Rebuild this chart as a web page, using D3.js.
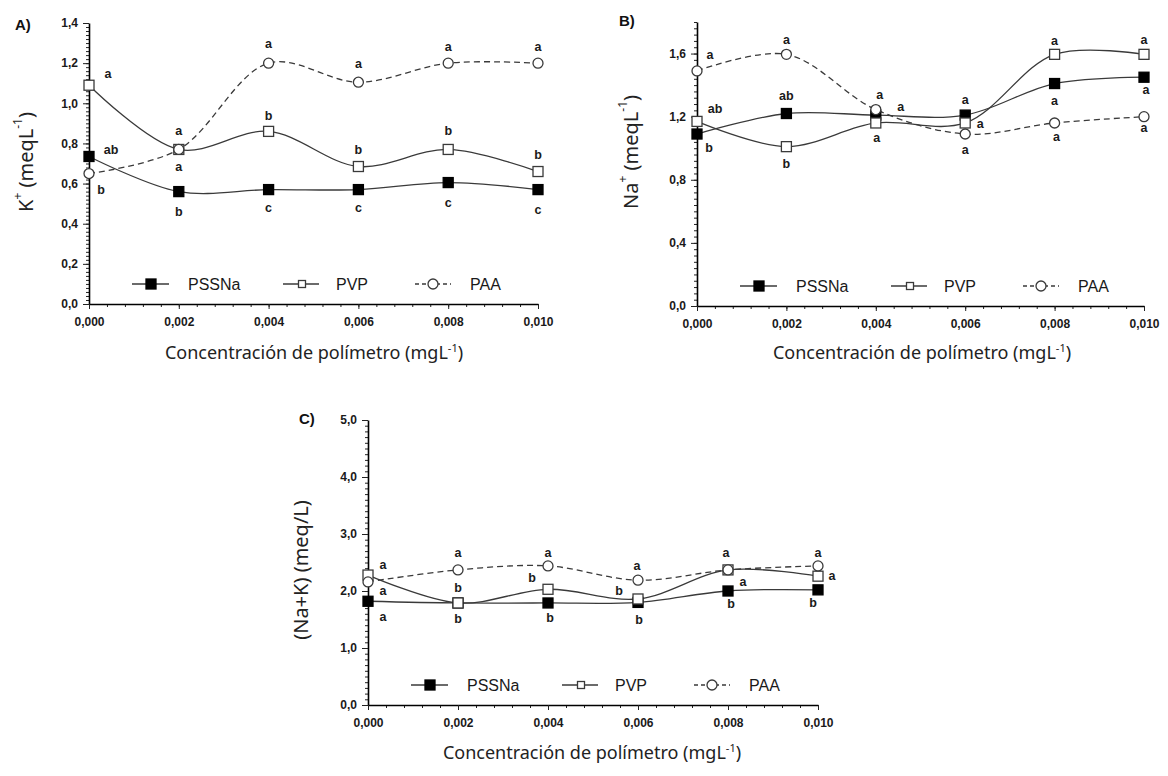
<!DOCTYPE html>
<html>
<head>
<meta charset="utf-8">
<script src="https://cdn.jsdelivr.net/npm/d3@7"></script>
<style>
  body { margin: 0; background: #fff; }
  svg { display: block; }
</style>
</head>
<body>
<svg width="1168" height="776"></svg>
<script>
// polymer concentration (mgL-1)
const concentrations = [0, 0.002, 0.004, 0.006, 0.008, 0.010];
const seriesNames = ['PSSNa', 'PVP', 'PAA'];

// A) K+
const kPSSNa = [0.735, 0.56, 0.57, 0.57, 0.605, 0.57];
const kPVP = [1.09, 0.77, 0.86, 0.685, 0.77, 0.66];
const kPAA = [0.65, 0.77, 1.20, 1.105, 1.20, 1.20];
const kPSSNaLetters = ['ab', 'b', 'c', 'c', 'c', 'c'];
const kPVPLetters = ['a', 'a', 'b', 'b', 'b', 'b'];
const kPAALetters = ['b', 'a', 'a', 'a', 'a', 'a'];
const kTicks = [0, 0.2, 0.4, 0.6, 0.8, 1.0, 1.2, 1.4];

// B) Na+
const naPSSNa = [1.09, 1.22, 1.21, 1.21, 1.41, 1.45];
const naPVP = [1.17, 1.01, 1.16, 1.16, 1.595, 1.595];
const naPAA = [1.49, 1.595, 1.245, 1.09, 1.16, 1.20];
const naPSSNaLetters = ['b', 'ab', 'a', 'a', 'a', 'a'];
const naPVPLetters = ['ab', 'b', 'a', 'a', 'a', 'a'];
const naPAALetters = ['a', 'a', 'a', 'a', 'a', 'a'];
const naTicks = [0, 0.4, 0.8, 1.2, 1.6];

// C) Na+K
const sumPSSNa = [1.82, 1.79, 1.79, 1.80, 2.00, 2.02];
const sumPVP = [2.28, 1.79, 2.03, 1.86, 2.37, 2.26];
const sumPAA = [2.16, 2.37, 2.44, 2.19, 2.37, 2.44];
const sumPSSNaLetters = ['a', 'b', 'b', 'b', 'b', 'b'];
const sumPVPLetters = ['a', 'b', 'b', 'b', 'a', 'a'];
const sumPAALetters = ['a', 'a', 'a', 'a', 'a', 'a'];
const sumTicks = [0, 1, 2, 3, 4, 5];

const svg = d3.select('svg');
const comma = f => v => d3.format(f)(v).replace('.', ',');
const lineColor = '#3a3a3a';

// layout of each panel (pixels)
const panels = [
  {
    label: 'A)', labelPos: [15, 30],
    xRange: [89, 538], yRange: [304, 23], yMax: 1.4, yTicks: kTicks, yMinorStep: 0.02,
    series: [kPSSNa, kPVP, kPAA],
    letters: [kPSSNaLetters, kPVPLetters, kPAALetters],
    offsets: [
      [[22, -6], [0, 20], [0, 18], [0, 18], [0, 20], [0, 20]],
      [[19, -11], [0, -18], [0, -15], [0, -17], [0, -18], [0, -17]],
      [[12, 16], [0, 18], [0, -19], [0, -18], [0, -16], [0, -16]]
    ],
    yTitle: [['K', 0], ['+', 1], [' (meqL', 0], ['-1', 1], [')', 0]],
    yTitlePos: [25, 162], xTitlePos: [314, 359]
  },
  {
    label: 'B)', labelPos: [619, 26],
    xRange: [697, 1144], yRange: [306, 22], yMax: 1.8, yTicks: naTicks, yMinorStep: 0.04,
    series: [naPSSNa, naPVP, naPAA],
    letters: [naPSSNaLetters, naPVPLetters, naPAALetters],
    offsets: [
      [[12, 14], [0, -18], [25, -8], [0, -15], [0, 17], [2, 13]],
      [[18, -12], [0, 17], [1, 15], [15, 1], [0, -13], [0, -14]],
      [[13, -16], [0, -14], [4, -15], [0, 16], [2, 14], [0, 11]]
    ],
    yTitle: [['Na', 0], ['+', 1], [' (meqL', 0], ['-1', 1], [')', 0]],
    yTitlePos: [630, 152], xTitlePos: [922, 359]
  },
  {
    label: 'C)', labelPos: [299, 424],
    xRange: [368, 818], yRange: [705, 420], yMax: 5, yTicks: sumTicks, yMinorStep: 0.1,
    series: [sumPSSNa, sumPVP, sumPAA],
    letters: [sumPSSNaLetters, sumPVPLetters, sumPAALetters],
    offsets: [
      [[15, 16], [0, 16], [2, 15], [1, 18], [3, 13], [-5, 13]],
      [[15, -10], [0, -15], [-16, -11], [-19, -8], [15, 12], [14, 0]],
      [[15, 9], [0, -17], [0, -13], [-1, -14], [-2, -17], [0, -13]]
    ],
    yTitle: [['(Na+K) (meq/L)', 0]],
    yTitlePos: [300, 570], xTitlePos: [592, 759]
  }
];

function addMarker(g, name, x, y, size) {
  if (name === 'PAA') {
    g.append('circle').attr('cx', x).attr('cy', y).attr('r', size / 2)
      .attr('fill', '#fff').attr('stroke', lineColor).attr('stroke-width', 1.3);
  } else {
    g.append('rect').attr('x', x - size / 2).attr('y', y - size / 2)
      .attr('width', size).attr('height', size)
      .attr('fill', name === 'PSSNa' ? '#000' : '#fff')
      .attr('stroke', name === 'PSSNa' ? '#000' : lineColor).attr('stroke-width', 1.3);
  }
}

function addRichText(t, parts, big, small) {
  parts.forEach((p, i) => {
    const prevSup = i > 0 && parts[i - 1][1];
    const sp = t.append('tspan').text(p[0]).attr('font-size', p[1] ? small : big);
    if (p[1] && !prevSup) sp.attr('dy', -big * 0.4);
    if (!p[1] && prevSup) sp.attr('dy', big * 0.4);
  });
}

panels.forEach(p => {
  const g = svg.append('g');
  const x = d3.scaleLinear().domain([0, 0.010]).range(p.xRange);
  const y = d3.scaleLinear().domain([0, p.yMax]).range(p.yRange);

  // minor ticks
  g.append('g').attr('transform', `translate(${p.xRange[0]},0)`)
    .call(d3.axisLeft(y).tickValues(d3.range(0, p.yMax + 1e-9, p.yMinorStep)).tickSize(3).tickFormat(''))
    .call(a => a.select('.domain').remove());
  g.append('g').attr('transform', `translate(0,${p.yRange[0]})`)
    .call(d3.axisBottom(x).tickValues(d3.range(0, 0.0100001, 0.0004)).tickSize(3).tickFormat(''))
    .call(a => a.select('.domain').remove());

  // major axes
  const yAxis = g.append('g').attr('transform', `translate(${p.xRange[0]},0)`)
    .call(d3.axisLeft(y).tickValues(p.yTicks).tickSize(6).tickSizeOuter(0).tickPadding(5).tickFormat(comma('.1f')));
  const xAxis = g.append('g').attr('transform', `translate(0,${p.yRange[0]})`)
    .call(d3.axisBottom(x).tickValues(concentrations).tickSize(5).tickSizeOuter(0).tickPadding(8).tickFormat(comma('.3f')));
  [yAxis, xAxis].forEach(a => {
    a.selectAll('text').attr('font-family', 'Liberation Sans, Arial, sans-serif')
      .attr('font-weight', 'bold').attr('font-size', 12).attr('fill', '#1a1a1a');
    a.select('.domain').attr('stroke-width', 1.6);
  });
  g.selectAll('.tick line').attr('stroke', '#222');

  // lines
  const line = d3.line().x((d, i) => x(concentrations[i])).y(d => y(d)).curve(d3.curveCatmullRom.alpha(0.5));
  p.series.forEach((vals, s) => {
    g.append('path').datum(vals).attr('d', line).attr('fill', 'none')
      .attr('stroke', lineColor).attr('stroke-width', 1.3)
      .attr('stroke-dasharray', seriesNames[s] === 'PAA' ? '6,4' : null);
  });
  // markers
  p.series.forEach((vals, s) => {
    vals.forEach((v, i) => addMarker(g, seriesNames[s], x(concentrations[i]), y(v), 10));
  });

  // significance letters
  p.series.forEach((vals, s) => {
    vals.forEach((v, i) => {
      g.append('text').attr('x', x(concentrations[i]) + p.offsets[s][i][0]).attr('y', y(v) + p.offsets[s][i][1])
        .attr('text-anchor', 'middle').attr('dominant-baseline', 'central')
        .attr('font-family', 'Liberation Sans, Arial, sans-serif').attr('font-weight', 'bold')
        .attr('font-size', 12.5).attr('fill', '#1a1a1a').text(p.letters[s][i]);
    });
  });

  // legend
  const ly = p.yRange[0] - 20;
  const lx = p.xRange[0];
  const legend = [
    {line: [43, 80], m: 62, t: 99, size: 10},
    {line: [194, 230], m: 213, t: 247, size: 7},
    {line: [326, 362], m: 344, t: 381, size: 10}
  ];
  legend.forEach((l, s) => {
    g.append('line').attr('x1', lx + l.line[0]).attr('x2', lx + l.line[1]).attr('y1', ly).attr('y2', ly)
      .attr('stroke', lineColor).attr('stroke-width', 1.3)
      .attr('stroke-dasharray', seriesNames[s] === 'PAA' ? '4,3' : null);
    addMarker(g, seriesNames[s], lx + l.m, ly, l.size);
    g.append('text').attr('x', lx + l.t).attr('y', ly).attr('dominant-baseline', 'central')
      .attr('font-family', 'Liberation Sans, Arial, sans-serif').attr('font-size', 16).attr('fill', '#1a1a1a')
      .text(seriesNames[s]);
  });

  // titles
  g.append('text').attr('x', p.labelPos[0]).attr('y', p.labelPos[1])
    .attr('font-family', 'Liberation Sans, Arial, sans-serif').attr('font-weight', 'bold')
    .attr('font-size', 15).attr('fill', '#111').text(p.label);

  const yt = g.append('text').attr('transform', `translate(${p.yTitlePos[0]},${p.yTitlePos[1]}) rotate(-90)`)
    .attr('text-anchor', 'middle').attr('dominant-baseline', 'central')
    .attr('font-family', 'Noto Sans, sans-serif').attr('font-size', 20).attr('fill', '#222');
  addRichText(yt, p.yTitle, 20, 12);

  const xt = g.append('text').attr('x', p.xTitlePos[0]).attr('y', p.xTitlePos[1])
    .attr('text-anchor', 'middle')
    .attr('font-family', 'Noto Sans, sans-serif').attr('font-size', 18).attr('fill', '#222');
  addRichText(xt, [['Concentración de polímetro (mgL', 0], ['-1', 1], [')', 0]], 18, 11);
});
</script>
</body>
</html>
